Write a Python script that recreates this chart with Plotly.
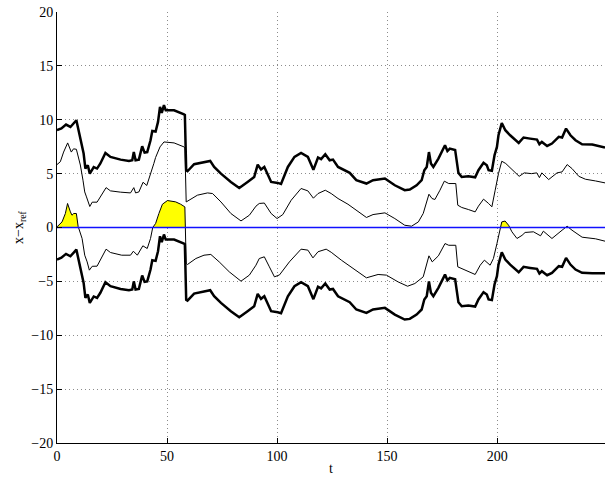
import plotly.graph_objects as go

# ---- data ----
T_THICK = [0, 2, 4.1, 6.1, 8.8, 10.6, 12.1, 12.9, 14, 14.9,
           16.7, 18.2, 19.7, 22, 24.3, 28.9, 32.7, 34.2, 34.9, 35.7,
           37.2, 38.7, 39.8, 41, 42.5, 43.3, 44.8, 45.9, 46.8, 47.6,
           48.6, 49.4, 53.2, 57.7, 58.1, 58.7, 59.3, 62.3, 65.3, 67.3,
           69.6, 71.4, 74.5, 79, 82.8, 86.6, 89.6, 91.2, 92.7, 94.2,
           97.3, 100.3, 101.8, 104.9, 107.9, 110.9, 114, 116.5, 118.6, 120,
           121.9, 123.9, 125.4, 127.7, 133, 136, 140.6, 143.6, 149, 153.5,
           158, 160.3, 163.4, 165.7, 166.9, 168, 169, 169.9, 171, 173.3,
           174.8, 176.3, 177.4, 178.5, 180.9, 181.6, 182.4, 183.9, 186.9, 190,
           191.5, 193.8, 195.3, 196.1, 197.6, 198.8, 199.9, 200.6, 202.1, 203.7,
           205.9, 209.8, 212, 215, 218.1, 219.2, 220.3, 222.7, 224.9, 228,
           229.5, 231.3, 233.3, 235.6, 238.6, 243.2, 249]
THICK_UP = [9.03, 9.2, 9.55, 9.33, 9.95, 8.1, 6.86, 5.47, 5.78, 5.0,
            5.6, 5.47, 5.94, 6.92, 6.55, 6.3, 6.18, 6.24, 7.0, 6.24,
            6.3, 7.54, 6.95, 7.0, 8.1, 8.96, 8.9, 9.8, 11.19, 10.63,
            11.35, 10.88, 10.88, 10.5, 10.45, 5.3, 5.22, 5.87, 6.0, 6.06,
            6.18, 5.62, 5.0, 4.23, 3.67, 4.23, 4.69, 5.84, 5.38, 5.62,
            4.23, 4.14, 4.05, 5.62, 6.55, 6.92, 6.55, 5.35, 6.5, 6.35,
            6.8, 6.24, 6.3, 5.62, 5.07, 4.39, 4.08, 4.39, 4.54, 3.92,
            3.46, 3.52, 3.92, 4.39, 5.32, 5.62, 7.0, 5.94, 5.62, 6.4,
            7.0, 7.63, 7.1, 7.33, 7.2, 5.94, 5.07, 4.69, 4.75, 4.66,
            5.32, 6.0, 5.78, 5.32, 5.26, 6.71, 7.48, 8.56, 9.7, 9.03,
            8.56, 7.85, 8.35, 8.25, 8.16, 7.73, 7.94, 7.57, 7.79, 8.41,
            8.35, 9.18, 8.56, 8.1, 7.73, 7.7, 7.42]
THICK_LO = [-2.97, -2.8, -2.45, -2.67, -2.05, -3.9, -5.14, -6.53, -6.22, -7.0,
            -6.4, -6.53, -6.06, -5.08, -5.45, -5.7, -5.82, -5.76, -5.0, -5.76,
            -5.7, -4.46, -5.05, -5.0, -3.9, -3.04, -3.1, -2.2, -0.81, -1.37,
            -0.65, -1.12, -1.12, -1.5, -1.55, -6.7, -6.78, -6.13, -6.0, -5.94,
            -5.82, -6.38, -7.0, -7.77, -8.33, -7.77, -7.31, -6.16, -6.62, -6.38,
            -7.77, -7.86, -7.95, -6.38, -5.45, -5.08, -5.45, -6.65, -5.5, -5.65,
            -5.2, -5.76, -5.7, -6.38, -6.93, -7.61, -7.92, -7.61, -7.46, -8.08,
            -8.54, -8.48, -8.08, -7.61, -6.68, -6.38, -5.0, -6.06, -6.38, -5.6,
            -5.0, -4.37, -4.9, -4.67, -4.8, -6.06, -6.93, -7.31, -7.25, -7.34,
            -6.68, -6.0, -6.22, -6.68, -6.74, -5.29, -4.52, -3.44, -2.3, -2.97,
            -3.44, -4.15, -3.65, -3.75, -3.84, -4.27, -4.06, -4.43, -4.21, -3.59,
            -3.65, -2.82, -3.44, -3.9, -4.2, -4.25, -4.25]

T_THIN_UP = [0, 1.5, 3, 4.85, 6.5, 7.5, 8.8, 10.6, 11.8, 12.6,
             13.4, 14.9, 16, 18.2, 22.3, 24.3, 28.9, 33.4, 34.9, 35.7,
             37.2, 39.1, 40.8, 42.5, 44, 44.8, 46.8, 48.6, 53.2, 57.7,
             58.1, 58.7, 63.8, 68.4, 70.7, 74.5, 79, 83.6, 87.4, 90.4,
             91.9, 94.2, 97.3, 100, 102.6, 106.4, 110.9, 114, 116.5, 118.6,
             121.9, 124.6, 127.7, 132.2, 136, 140.6, 143.6, 149, 153.5, 158,
             161.1, 164.2, 166.4, 168.4, 169, 170.4, 171.7, 174, 176, 178,
             181.2, 182.1, 183.9, 186.9, 190, 191.5, 193.8, 196.1, 197.6, 199.1,
             200.6, 202.1, 203.9, 206.3, 210, 212.3, 215.6, 218, 219.2, 220.3,
             223.4, 227.2, 229.5, 231.8, 234, 237.1, 240.1, 244.7, 249]
THIN_UP = [5.84, 6.1, 7.0, 7.85, 7.0, 7.3, 7.26, 5.8, 4.39, 3.3,
           2.84, 1.95, 2.35, 2.35, 3.7, 3.4, 3.28, 3.21, 3.7, 3.21,
           3.3, 4.2, 3.9, 4.9, 5.94, 6.5, 7.48, 7.94, 7.85, 7.48,
           7.4, 2.37, 3.0, 3.21, 3.15, 2.37, 1.3, 0.61, 1.14, 1.98,
           2.23, 2.27, 1.3, 0.83, 1.2, 2.53, 3.62, 3.4, 2.72, 3.15,
           3.46, 3.15, 2.69, 2.16, 1.6, 0.93, 1.2, 1.36, 0.83, 0.21,
           0.12, 0.52, 1.3, 2.53, 3.09, 2.69, 2.6, 3.46, 4.3, 4.08,
           4.08, 2.07, 1.86, 1.67, 1.45, 1.98, 2.63, 2.23, 1.92, 3.46,
           5.0, 6.15, 5.94, 5.47, 4.75, 5.07, 5.0, 5.07, 4.63, 5.07,
           4.45, 5.07, 5.16, 5.84, 5.47, 4.75, 4.48, 4.32, 4.14]

T_THIN_LO = [0, 2.3, 3.8, 4.8, 6.1, 6.8, 7.6, 8.8, 9.6, 11.4,
             12.6, 13.7, 14.7, 16, 18.2, 22.3, 24.3, 29.4, 33.4, 34.7,
             36.5, 39, 41, 42.5, 43.5, 44.8, 46.3, 47.9, 50.2, 53.9,
             56.2, 58.1, 58.7, 59.3, 63.1, 66.8, 69.9, 73.7, 78.3, 83.6,
             87.4, 90.4, 91.9, 94.2, 96.5, 98.8, 101.1, 105.6, 110.9, 114,
             116.3, 118.6, 122.3, 124.6, 129.2, 134.5, 140.6, 145.9, 149.7, 155,
             159.3, 162.6, 166.4, 169, 170.5, 173.3, 176.3, 178, 181.2, 182.1,
             185.4, 190, 192.3, 194.2, 196.8, 198.3, 199.9, 201.4, 202.1, 203.6,
             205.2, 206.7, 209, 211.3, 212.7, 216.5, 219.7, 221, 224.9, 229.5,
             231.8, 234, 238.6, 244.7, 249]
THIN_LO = [0.06, 0.52, 1.3, 2.23, 1.45, 1.14, 1.3, 1.3, 0.1, -1.02,
           -2.57, -3.19, -3.96, -3.6, -3.59, -2.01, -2.32, -2.57, -2.57, -2.2,
           -2.57, -1.7, -1.95, -1.02, 0.0, 0.37, 1.3, 2.16, 2.5, 2.38,
           2.16, 1.91, -3.34, -3.43, -2.88, -2.57, -2.5, -3.19, -4.12, -4.98,
           -4.42, -3.5, -2.88, -2.72, -3.65, -4.58, -4.4, -3.19, -2.01, -2.1,
           -2.82, -2.25, -2.01, -2.3, -3.03, -3.8, -4.67, -4.36, -4.42, -5.05,
           -5.45, -5.2, -4.58, -2.63, -3.19, -2.63, -1.49, -1.65, -1.65, -3.65,
           -3.96, -4.36, -3.5, -3.03, -3.5, -2.88, -1.49, -0.1, 0.52, 0.6,
           0.21, -0.4, -1.02, -0.73, -0.46, -0.4, -0.77, -0.34, -1.02, -0.25,
           0.12, -0.25, -0.9, -1.05, -1.27]

X_TICKS = [0, 50, 100, 150, 200]
Y_TICKS = [-20, -15, -10, -5, 0, 5, 10, 15, 20]
X_RANGE = [0, 249]
Y_RANGE = [-20, 20]

# positive part of the thin lower curve (yellow area), with zero crossings
fx, fy = [], []
for i in range(len(T_THIN_LO)):
    if i > 0:
        a, b = THIN_LO[i - 1], THIN_LO[i]
        if (a > 0 and b < 0) or (a < 0 and b > 0):
            t0, t1 = T_THIN_LO[i - 1], T_THIN_LO[i]
            fx.append(t0 + (t1 - t0) * a / (a - b))
            fy.append(0)
    fx.append(T_THIN_LO[i])
    fy.append(max(THIN_LO[i], 0))

fig = go.Figure()
fig.add_trace(go.Scatter(x=fx, y=fy, mode="lines", fill="tozeroy",
                         fillcolor="rgb(255,255,0)", line=dict(width=0, color="rgb(255,255,0)"),
                         hoverinfo="skip"))
fig.add_trace(go.Scatter(x=T_THIN_UP, y=THIN_UP, mode="lines",
                         line=dict(color="black", width=1)))
fig.add_trace(go.Scatter(x=T_THIN_LO, y=THIN_LO, mode="lines",
                         line=dict(color="black", width=1)))
fig.add_trace(go.Scatter(x=T_THICK, y=THICK_UP, mode="lines",
                         line=dict(color="black", width=2.5)))
fig.add_trace(go.Scatter(x=T_THICK, y=THICK_LO, mode="lines",
                         line=dict(color="black", width=2.5)))
fig.add_trace(go.Scatter(x=X_RANGE, y=[0, 0], mode="lines",
                         line=dict(color="#1010ff", width=1.5)))

axis_common = dict(showline=True, linecolor="black", linewidth=1, mirror=False,
                   ticks="inside", ticklen=5, tickcolor="black",
                   showgrid=True, gridcolor="#8c8c8c", gridwidth=1, griddash="1px,3px",
                   zeroline=False, automargin=False,
                   tickfont=dict(family="Liberation Serif", size=14, color="black"))

fig.update_layout(
    width=613, height=483,
    margin=dict(l=57, r=8, t=12, b=40),
    paper_bgcolor="white", plot_bgcolor="white",
    showlegend=False, hovermode=False,
    font=dict(family="Liberation Serif", size=14, color="black"),
    xaxis=dict(range=X_RANGE, tickvals=X_TICKS,
               title=dict(text="t", standoff=0, font=dict(size=14)), **axis_common),
    yaxis=dict(range=Y_RANGE, tickvals=Y_TICKS,
               title=dict(text="x−x<sub>ref</sub>", standoff=4, font=dict(size=14)), **axis_common),
)

fig.write_html("out.html", config={"displayModeBar": False},
               post_script="document.body.style.margin='0';document.body.style.overflow='hidden';")
